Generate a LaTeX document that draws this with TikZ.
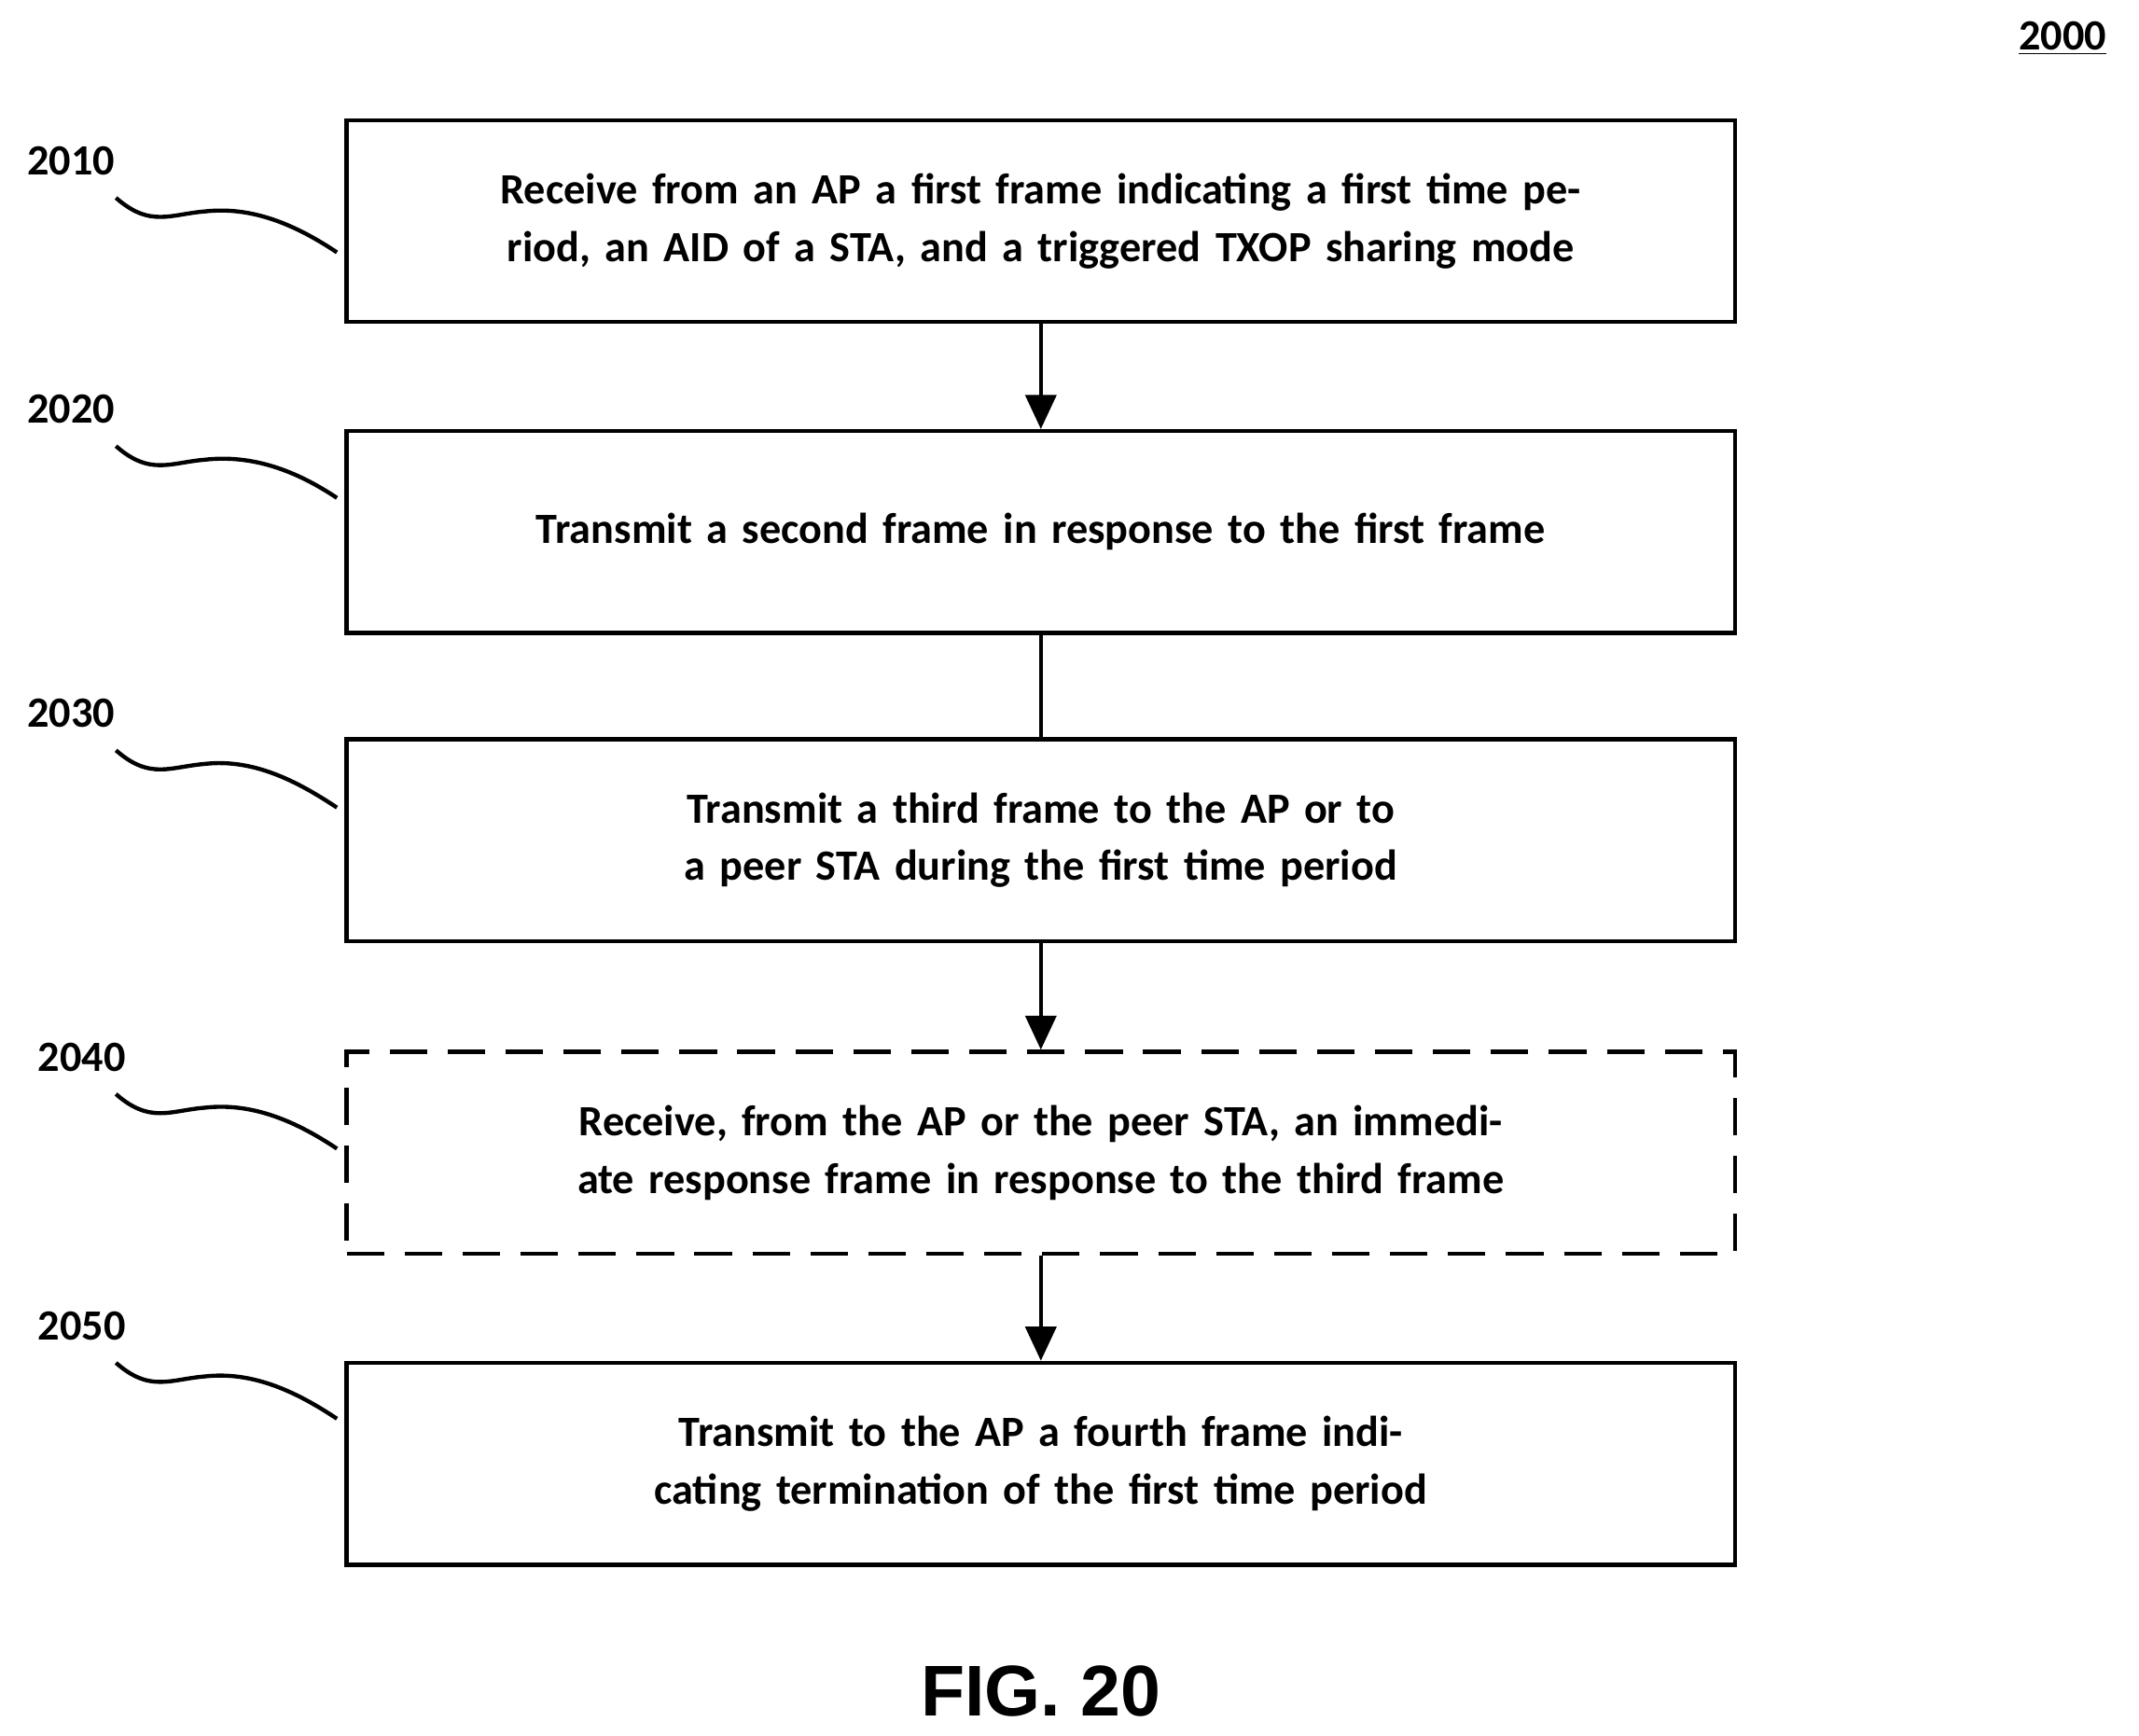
\documentclass[tikz,border=0pt]{standalone}
\usepackage{fontspec}
\setmainfont{Carlito}
\newfontfamily\figfont{Liberation Sans}
\usetikzlibrary{positioning, arrows.meta}
\tikzstyle{stepbox} = [rectangle, draw=black, line width=1.7pt, minimum width=20.36cm,
                    minimum height=2.96cm, align=center, text width=19.8cm,
                    font=\fontsize{18}{24}\selectfont\bfseries]
\tikzstyle{reflabel} = [font=\fontsize{18}{22}\selectfont\bfseries]
\tikzstyle{arrow} = [line width=1.7pt, -{Triangle[length=0.5cm, width=0.45cm]}]
\tikzstyle{lead} = [line width=1.7pt]

\begin{document}
\begin{tikzpicture}[x=0.02cm, y=-0.02cm]
        \useasboundingbox (0,0) rectangle (1568,1272);

        \node (fignum) at (1512,28) [reflabel] {\underline{2000}};

        %Steps
        \node (S1) at (763,162) [stepbox] {Receive from an AP a first frame indicating a first time period, an AID of a STA, and a triggered TXOP sharing mode};
        \node (S2) at (763,390) [stepbox] {Transmit a second frame in response to the first frame};
        \node (S3) at (763,616) [stepbox] {Transmit a third frame to the AP or to a peer STA during the first time period};
        \node (S4) at (763,845) [stepbox, dash pattern=on 0.55cm off 0.3cm] {Receive, from the AP or the peer STA, an immediate response frame in response to the third frame};
        \node (S5) at (763,1073) [stepbox] {Transmit to the AP a fourth frame indicating termination of the first time period};

        %Connectors
        \draw [arrow] (S1) -- (S2);
        \draw [lead] (S2) -- (S3);
        \draw [arrow] (S3) -- (S4);
        \draw [arrow] (S4) -- (S5);

        %Reference labels
        \foreach \name/\txt/\lx/\ly/\ey in {L1/2010/52/118/185, L2/2020/52/300/365,
                L3/2030/52/523/592, L4/2040/60/775/842, L5/2050/60/972/1040} {
            \node (\name) at (\lx,\ly) [reflabel] {\txt};
            \coordinate (\name s) at (85,\ly+27);
            \coordinate (\name e) at (247,\ey);
            \draw [lead] (\name s) .. controls +(25,22) and +(-25,2) .. ([shift={(65,10)}]\name s)
                .. controls +(35,-4) and +(-30,-20) .. (\name e);
        }

        \node (caption) at (763,1240) [font=\figfont\fontsize{30}{34}\selectfont\bfseries] {FIG. 20};
\end{tikzpicture}
\end{document}
